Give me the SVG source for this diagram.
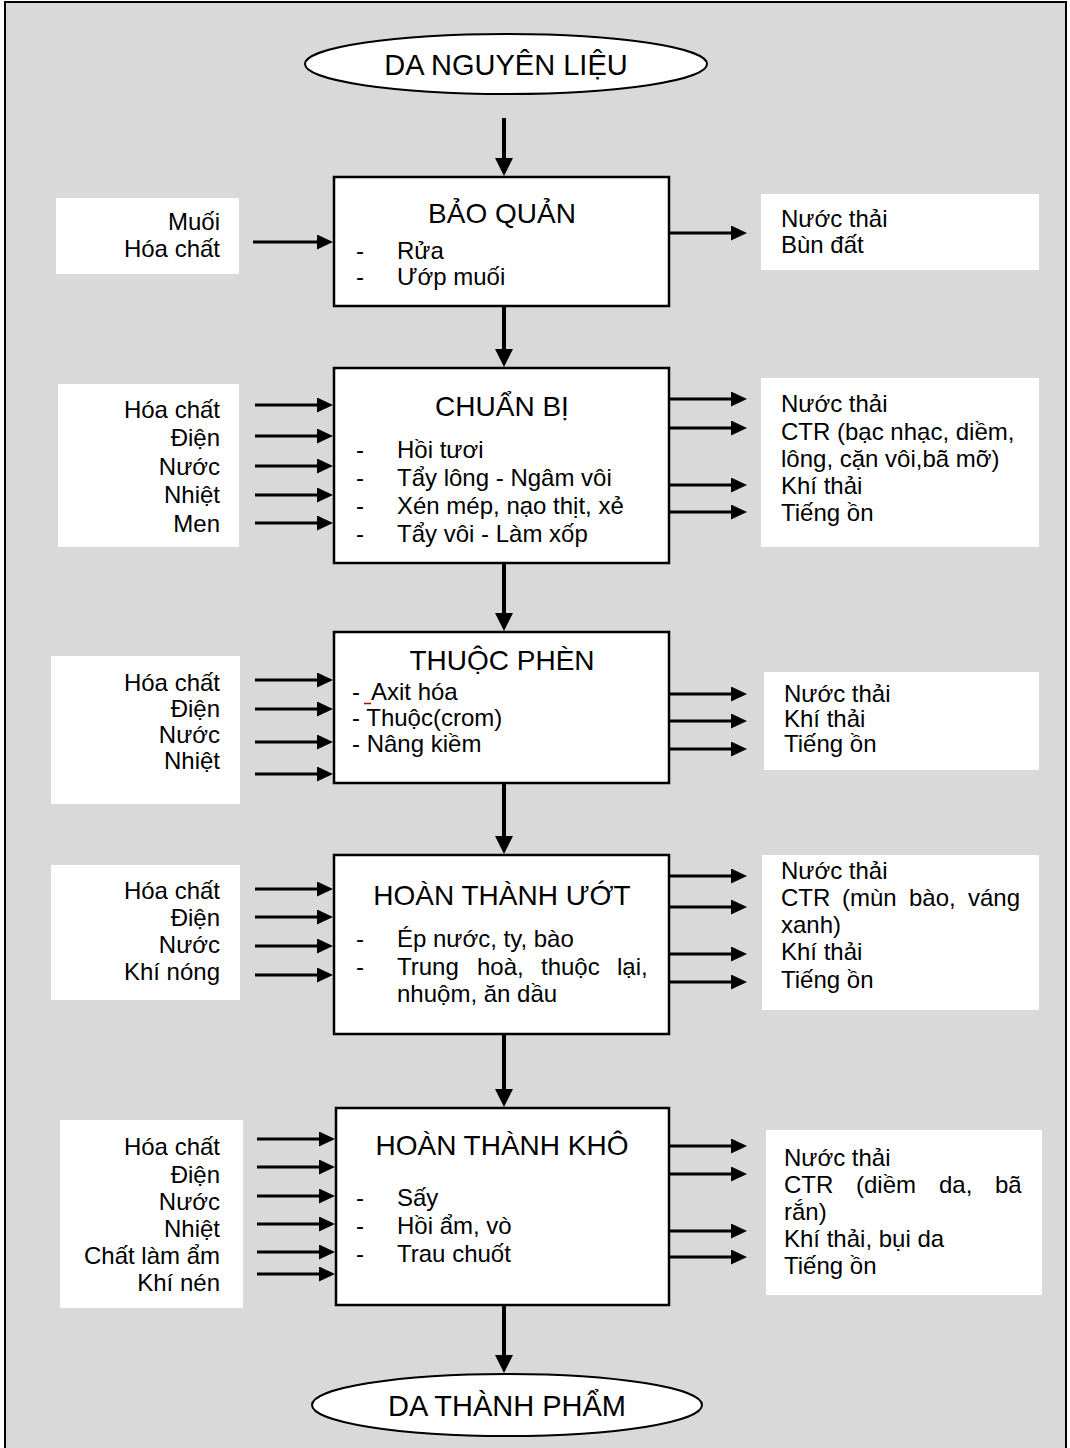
<svg xmlns="http://www.w3.org/2000/svg" width="1070" height="1448" viewBox="0 0 1070 1448">
  <style>
    text { font-family: "Liberation Sans", Arial, sans-serif; fill: #000; }
    .t { font-size: 24px; }
    .title { font-size: 28px; text-anchor: middle; }
    .term { font-size: 29px; text-anchor: middle; }
    .in { font-size: 24px; text-anchor: end; }
    .proc { fill: #fff; stroke: #000; stroke-width: 2.5; }
    .pad { fill: #fff; stroke: none; }
    .flow { stroke: #000; stroke-width: 4; fill: none; marker-end: url(#headMain); }
    .feed { stroke: #000; stroke-width: 3; fill: none; marker-end: url(#headSmall); }
  </style>
  <defs>
    <marker id="headMain" markerUnits="userSpaceOnUse" viewBox="0 0 18 18" markerWidth="18" markerHeight="18" refX="0" refY="9" orient="auto">
      <path d="M0,0 L18,9 L0,18 z" fill="#000"/>
    </marker>
    <marker id="headSmall" markerUnits="userSpaceOnUse" viewBox="0 0 16 15" markerWidth="16" markerHeight="15" refX="0" refY="7.5" orient="auto">
      <path d="M0,0 L16,7.5 L0,15 z" fill="#000"/>
    </marker>
  </defs>

  <!-- page background and frame -->
  <rect x="5" y="2" width="1061" height="1470" fill="#d9d9d9" stroke="#000" stroke-width="2"/>

  <!-- terminals -->
  <g id="da-nguyen-lieu">
    <ellipse cx="506" cy="64" rx="201" ry="30" fill="#fff" stroke="#000" stroke-width="2"/>
    <text class="term" x="506" y="75">DA NGUYÊN LIỆU</text>
  </g>
  <g id="da-thanh-pham">
    <ellipse cx="507" cy="1405" rx="195" ry="31" fill="#fff" stroke="#000" stroke-width="2"/>
    <text class="term" x="507" y="1416">DA THÀNH PHẨM</text>
  </g>

  <!-- step 1 -->
  <g id="bao-quan">
    <rect class="proc" x="334" y="177" width="335" height="129"/>
    <text class="title" x="502" y="223">BẢO QUẢN</text>
    <text class="t" x="356" y="259">-</text><text class="t" x="397" y="259">Rửa</text>
    <text class="t" x="356" y="285">-</text><text class="t" x="397" y="285">Ướp muối</text>
  </g>
  <g id="bao-quan-in">
    <rect class="pad" x="56" y="198" width="183" height="76"/>
    <text class="in" x="220" y="230">Muối</text>
    <text class="in" x="220" y="257">Hóa chất</text>
  </g>
  <g id="bao-quan-out">
    <rect class="pad" x="761" y="194" width="278" height="76"/>
    <text class="t" x="781" y="227">Nước thải</text>
    <text class="t" x="781" y="253">Bùn đất</text>
  </g>

  <!-- step 2 -->
  <g id="chuan-bi">
    <rect class="proc" x="334" y="368" width="335" height="195"/>
    <text class="title" x="502" y="416">CHUẨN BỊ</text>
    <text class="t" x="356" y="458">-</text><text class="t" x="397" y="458">Hồi tươi</text>
    <text class="t" x="356" y="486">-</text><text class="t" x="397" y="486">Tẩy lông - Ngâm vôi</text>
    <text class="t" x="356" y="514">-</text><text class="t" x="397" y="514">Xén mép, nạo thịt, xẻ</text>
    <text class="t" x="356" y="542">-</text><text class="t" x="397" y="542">Tẩy vôi - Làm xốp</text>
  </g>
  <g id="chuan-bi-in">
    <rect class="pad" x="58" y="384" width="181" height="163"/>
    <text class="in" x="220" y="418">Hóa chất</text>
    <text class="in" x="220" y="446">Điện</text>
    <text class="in" x="220" y="475">Nước</text>
    <text class="in" x="220" y="503">Nhiệt</text>
    <text class="in" x="220" y="532">Men</text>
  </g>
  <g id="chuan-bi-out">
    <rect class="pad" x="761" y="378" width="278" height="169"/>
    <text class="t" x="781" y="412">Nước thải</text>
    <text class="t" x="781" y="440">CTR (bạc nhạc, diềm,</text>
    <text class="t" x="781" y="467">lông, cặn vôi,bã mỡ)</text>
    <text class="t" x="781" y="494">Khí thải</text>
    <text class="t" x="781" y="521">Tiếng ồn</text>
  </g>

  <!-- step 3 -->
  <g id="thuoc-phen">
    <rect class="proc" x="334" y="632" width="335" height="151"/>
    <text class="title" x="502" y="670">THUỘC PHÈN</text>
    <text class="t" x="352" y="700">-</text><text class="t" x="371" y="700">Axit hóa</text>
    <line x1="364" y1="703.5" x2="371" y2="703.5" stroke="#c00000" stroke-width="1.5"/>
    <text class="t" x="352" y="726">- Thuộc(crom)</text>
    <text class="t" x="352" y="752">- Nâng kiềm</text>
  </g>
  <g id="thuoc-phen-in">
    <rect class="pad" x="51" y="656" width="189" height="148"/>
    <text class="in" x="220" y="691">Hóa chất</text>
    <text class="in" x="220" y="717">Điện</text>
    <text class="in" x="220" y="743">Nước</text>
    <text class="in" x="220" y="769">Nhiệt</text>
  </g>
  <g id="thuoc-phen-out">
    <rect class="pad" x="764" y="672" width="275" height="98"/>
    <text class="t" x="784" y="702">Nước thải</text>
    <text class="t" x="784" y="727">Khí thải</text>
    <text class="t" x="784" y="752">Tiếng ồn</text>
  </g>

  <!-- step 4 -->
  <g id="hoan-thanh-uot">
    <rect class="proc" x="334" y="855" width="335" height="179"/>
    <text class="title" x="502" y="905">HOÀN THÀNH ƯỚT</text>
    <text class="t" x="356" y="947">-</text><text class="t" x="397" y="947">Ép nước, ty, bào</text>
    <text class="t" x="356" y="975">-</text>
    <text class="t" y="975"><tspan x="397">Trung</tspan><tspan x="477">hoà,</tspan><tspan x="541">thuộc</tspan><tspan x="617">lại,</tspan></text>
    <text class="t" x="397" y="1002">nhuộm, ăn dầu</text>
  </g>
  <g id="hoan-thanh-uot-in">
    <rect class="pad" x="51" y="865" width="189" height="135"/>
    <text class="in" x="220" y="899">Hóa chất</text>
    <text class="in" x="220" y="926">Điện</text>
    <text class="in" x="220" y="953">Nước</text>
    <text class="in" x="220" y="980">Khí nóng</text>
  </g>
  <g id="hoan-thanh-uot-out">
    <rect class="pad" x="762" y="855" width="277" height="155"/>
    <text class="t" x="781" y="879">Nước thải</text>
    <text class="t" y="906"><tspan x="781">CTR</tspan><tspan x="842">(mùn</tspan><tspan x="909">bào,</tspan><tspan x="968">váng</tspan></text>
    <text class="t" x="781" y="933">xanh)</text>
    <text class="t" x="781" y="960">Khí thải</text>
    <text class="t" x="781" y="988">Tiếng ồn</text>
  </g>

  <!-- step 5 -->
  <g id="hoan-thanh-kho">
    <rect class="proc" x="336" y="1108" width="333" height="197"/>
    <text class="title" x="502" y="1155">HOÀN THÀNH KHÔ</text>
    <text class="t" x="356" y="1206">-</text><text class="t" x="397" y="1206">Sấy</text>
    <text class="t" x="356" y="1234">-</text><text class="t" x="397" y="1234">Hồi ẩm, vò</text>
    <text class="t" x="356" y="1262">-</text><text class="t" x="397" y="1262">Trau chuốt</text>
  </g>
  <g id="hoan-thanh-kho-in">
    <rect class="pad" x="60" y="1120" width="183" height="188"/>
    <text class="in" x="220" y="1155">Hóa chất</text>
    <text class="in" x="220" y="1183">Điện</text>
    <text class="in" x="220" y="1210">Nước</text>
    <text class="in" x="220" y="1237">Nhiệt</text>
    <text class="in" x="220" y="1264">Chất làm ẩm</text>
    <text class="in" x="220" y="1291">Khí nén</text>
  </g>
  <g id="hoan-thanh-kho-out">
    <rect class="pad" x="766" y="1130" width="276" height="165"/>
    <text class="t" x="784" y="1166">Nước thải</text>
    <text class="t" y="1193"><tspan x="784">CTR</tspan><tspan x="856">(diềm</tspan><tspan x="939">da,</tspan><tspan x="995">bã</tspan></text>
    <text class="t" x="784" y="1220">rắn)</text>
    <text class="t" x="784" y="1247">Khí thải, bụi da</text>
    <text class="t" x="784" y="1274">Tiếng ồn</text>
  </g>

  <!-- connectors -->
  <g id="connectors">
    <!-- main flow -->
    <line class="flow" x1="504" y1="118" x2="504" y2="158"/>
    <line class="flow" x1="504" y1="306" x2="504" y2="349"/>
    <line class="flow" x1="504" y1="563" x2="504" y2="613"/>
    <line class="flow" x1="504" y1="783" x2="504" y2="836"/>
    <line class="flow" x1="504" y1="1034" x2="504" y2="1089"/>
    <line class="flow" x1="504" y1="1305" x2="504" y2="1355"/>

    <!-- inputs -->
    <line class="feed" x1="253" y1="242" x2="317" y2="242"/>

    <line class="feed" x1="255" y1="405" x2="317" y2="405"/>
    <line class="feed" x1="255" y1="436" x2="317" y2="436"/>
    <line class="feed" x1="255" y1="466" x2="317" y2="466"/>
    <line class="feed" x1="255" y1="495" x2="317" y2="495"/>
    <line class="feed" x1="255" y1="523" x2="317" y2="523"/>

    <line class="feed" x1="255" y1="680" x2="317" y2="680"/>
    <line class="feed" x1="255" y1="709" x2="317" y2="709"/>
    <line class="feed" x1="255" y1="742" x2="317" y2="742"/>
    <line class="feed" x1="255" y1="774" x2="317" y2="774"/>

    <line class="feed" x1="255" y1="889" x2="317" y2="889"/>
    <line class="feed" x1="255" y1="917" x2="317" y2="917"/>
    <line class="feed" x1="255" y1="946" x2="317" y2="946"/>
    <line class="feed" x1="255" y1="975" x2="317" y2="975"/>

    <line class="feed" x1="257" y1="1139" x2="319" y2="1139"/>
    <line class="feed" x1="257" y1="1167" x2="319" y2="1167"/>
    <line class="feed" x1="257" y1="1196" x2="319" y2="1196"/>
    <line class="feed" x1="257" y1="1224" x2="319" y2="1224"/>
    <line class="feed" x1="257" y1="1252" x2="319" y2="1252"/>
    <line class="feed" x1="257" y1="1274" x2="319" y2="1274"/>

    <!-- outputs -->
    <line class="feed" x1="669" y1="233" x2="731" y2="233"/>

    <line class="feed" x1="669" y1="399" x2="731" y2="399"/>
    <line class="feed" x1="669" y1="428" x2="731" y2="428"/>
    <line class="feed" x1="669" y1="485" x2="731" y2="485"/>
    <line class="feed" x1="669" y1="512" x2="731" y2="512"/>

    <line class="feed" x1="669" y1="694" x2="731" y2="694"/>
    <line class="feed" x1="669" y1="721" x2="731" y2="721"/>
    <line class="feed" x1="669" y1="749" x2="731" y2="749"/>

    <line class="feed" x1="669" y1="876" x2="731" y2="876"/>
    <line class="feed" x1="669" y1="907" x2="731" y2="907"/>
    <line class="feed" x1="669" y1="954" x2="731" y2="954"/>
    <line class="feed" x1="669" y1="982" x2="731" y2="982"/>

    <line class="feed" x1="669" y1="1146" x2="731" y2="1146"/>
    <line class="feed" x1="669" y1="1174" x2="731" y2="1174"/>
    <line class="feed" x1="669" y1="1231" x2="731" y2="1231"/>
    <line class="feed" x1="669" y1="1257" x2="731" y2="1257"/>
  </g>
</svg>
